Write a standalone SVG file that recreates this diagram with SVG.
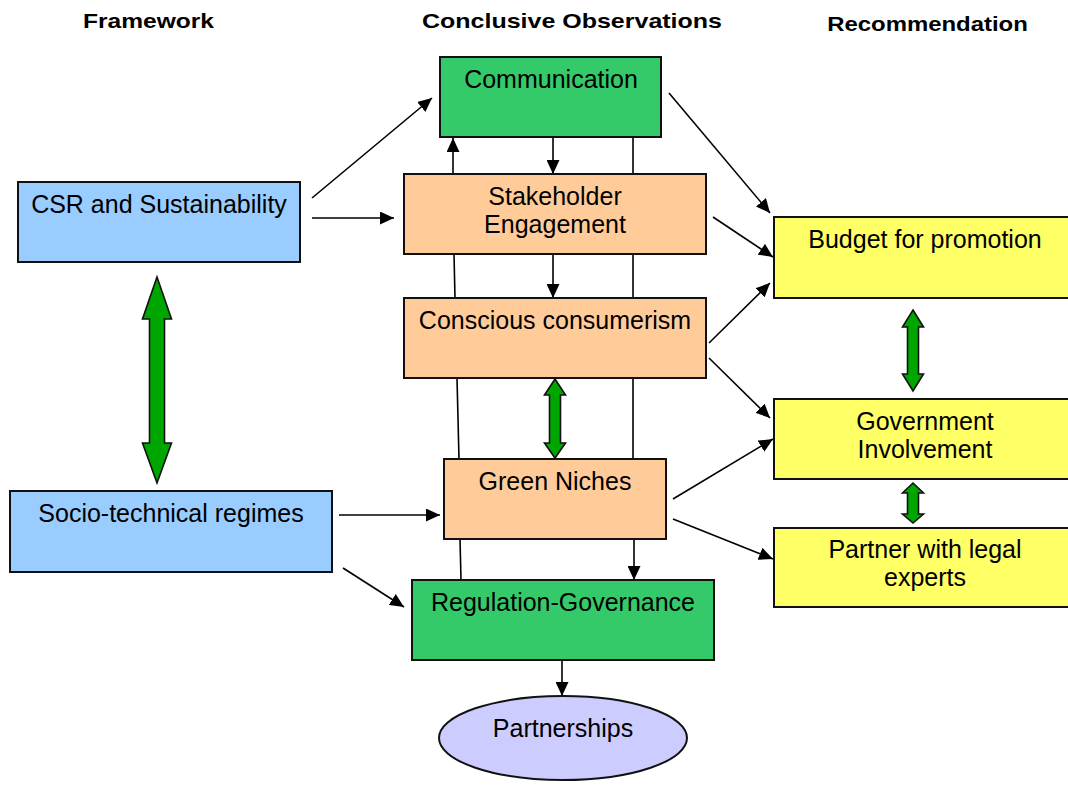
<svg xmlns="http://www.w3.org/2000/svg" width="1068" height="785" viewBox="0 0 1068 785">
<style>
.box{stroke:#111;stroke-width:2}
.blue{fill:#99CCFF}
.orange{fill:#FFCC99}
.green{fill:#35CA69}
.yellow{fill:#FFFF66}
.lav{fill:#CCCCFF}
.t{font-family:"Liberation Sans",Arial,sans-serif;font-size:25px;fill:#000;text-anchor:middle}
.h{font-family:"Liberation Sans",Arial,sans-serif;font-size:21px;font-weight:bold;fill:#000;text-anchor:middle}
.c{stroke:#000;stroke-width:1.6;fill:none}
.a{marker-end:url(#ah)}
.dbl{fill:#00A600;stroke:#111;stroke-width:1.6;stroke-linejoin:miter}
</style>
<defs>
<marker id="ah" markerUnits="userSpaceOnUse" markerWidth="15" markerHeight="13" refX="14" refY="6.5" orient="auto">
<path d="M0,0 L14,6.5 L0,13 z" fill="#000"/>
</marker>
</defs>

<g id="headers">
<text class="h" transform="translate(148.5,28) scale(1.17,1)">Framework</text>
<text class="h" transform="translate(572,28) scale(1.19,1)">Conclusive Observations</text>
<text class="h" transform="translate(927.5,31) scale(1.14,1)">Recommendation</text>
</g>

<g id="connectors">
<line class="c a" x1="312" y1="198" x2="432" y2="98"/>
<line class="c a" x1="312" y1="218" x2="394" y2="218"/>
<line class="c a" x1="669" y1="93" x2="770" y2="213"/>
<line class="c a" x1="713" y1="217" x2="773" y2="257"/>
<line class="c a" x1="709" y1="343" x2="770" y2="283"/>
<line class="c a" x1="709" y1="358" x2="770" y2="418"/>
<line class="c a" x1="673" y1="499" x2="773" y2="439"/>
<line class="c a" x1="673" y1="519" x2="773" y2="559"/>
<line class="c a" x1="339" y1="515" x2="440" y2="515"/>
<line class="c a" x1="343" y1="568" x2="404" y2="607"/>
<line class="c a" x1="453" y1="174" x2="453" y2="138"/>
<line class="c a" x1="553" y1="137" x2="553" y2="174"/>
<line class="c" x1="633" y1="137" x2="633" y2="174"/>
<line class="c" x1="454" y1="254" x2="455" y2="298"/>
<line class="c a" x1="553" y1="254" x2="553" y2="298"/>
<line class="c" x1="633" y1="254" x2="633" y2="298"/>
<line class="c" x1="457" y1="378" x2="459" y2="459"/>
<line class="c" x1="633" y1="378" x2="633" y2="459"/>
<line class="c" x1="460" y1="539" x2="461" y2="580"/>
<line class="c a" x1="634" y1="539" x2="634" y2="580"/>
<line class="c a" x1="562" y1="660" x2="562" y2="696"/>
<polygon class="dbl" points="157,277 171.5,319 164.5,319 164.5,443 171.5,443 157,483 142.5,443 149.5,443 149.5,319 142.5,319"/>
<polygon class="dbl" points="555,379 565.5,395 560.5,395 560.5,443 565.5,443 555,458 544.5,443 549.5,443 549.5,395 544.5,395"/>
<polygon class="dbl" points="913,310 923.5,327 918.5,327 918.5,374 923.5,374 913,391 902.5,374 907.5,374 907.5,327 902.5,327"/>
<polygon class="dbl" points="913,483 923.5,493 918.5,493 918.5,514 923.5,514 913,523 902.5,514 907.5,514 907.5,493 902.5,493"/>
</g>

<g id="csr">
<rect class="box blue" x="18" y="182" width="282" height="80"/>
<text class="t" x="159" y="213">CSR and Sustainability</text>
</g>
<g id="socio">
<rect class="box blue" x="10" y="491" width="322" height="81"/>
<text class="t" x="171" y="522">Socio-technical regimes</text>
</g>
<g id="communication">
<rect class="box green" x="440" y="57" width="221" height="80"/>
<text class="t" x="551" y="88">Communication</text>
</g>
<g id="stakeholder">
<rect class="box orange" x="404" y="174" width="302" height="80"/>
<text class="t" x="555" y="205">Stakeholder</text>
<text class="t" x="555" y="233">Engagement</text>
</g>
<g id="conscious">
<rect class="box orange" x="404" y="298" width="302" height="80"/>
<text class="t" x="555" y="329">Conscious consumerism</text>
</g>
<g id="green-niches">
<rect class="box orange" x="444" y="459" width="222" height="80"/>
<text class="t" x="555" y="490">Green Niches</text>
</g>
<g id="regulation">
<rect class="box green" x="412" y="580" width="302" height="80"/>
<text class="t" x="563" y="611">Regulation-Governance</text>
</g>
<g id="partnerships">
<ellipse class="box lav" cx="563" cy="738" rx="124" ry="42"/>
<text class="t" x="563" y="737">Partnerships</text>
</g>
<g id="budget">
<rect class="box yellow" x="774" y="217" width="302" height="81"/>
<text class="t" x="925" y="248">Budget for promotion</text>
</g>
<g id="government">
<rect class="box yellow" x="774" y="399" width="302" height="80"/>
<text class="t" x="925" y="430">Government</text>
<text class="t" x="925" y="458">Involvement</text>
</g>
<g id="partner-legal">
<rect class="box yellow" x="774" y="528" width="302" height="79"/>
<text class="t" x="925" y="558">Partner with legal</text>
<text class="t" x="925" y="586">experts</text>
</g>
</svg>
